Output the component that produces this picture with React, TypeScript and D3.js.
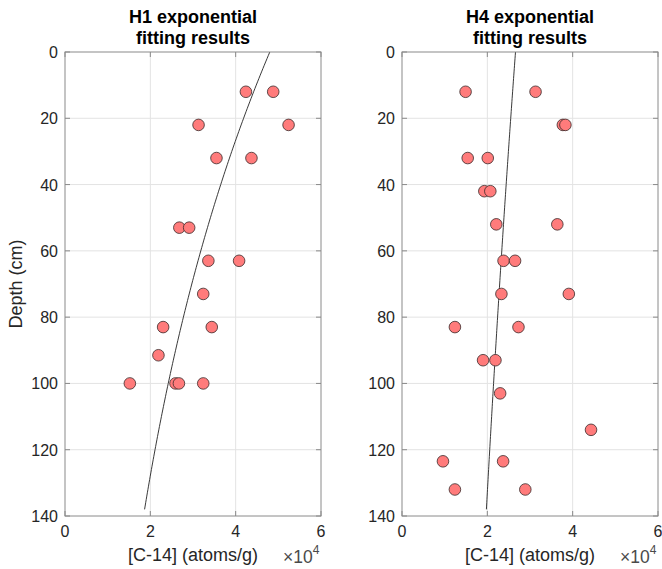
import * as d3 from "d3";
import React from "react";

// depth (cm) and [C-14] (x1e4 atoms/g)
const h1Depth = [12, 12, 22, 22, 32, 32, 53, 53, 63, 63, 73, 83, 83, 91.5, 100, 100, 100, 100];
const h1Conc = [4.24, 4.88, 3.13, 5.24, 3.55, 4.37, 2.68, 2.91, 3.36, 4.08, 3.24, 2.3, 3.44, 2.19, 1.52, 2.59, 2.67, 3.24];

const h4Depth = [12, 12, 22, 22, 32, 32, 42, 42, 52, 52, 63, 63, 73, 73, 83, 83, 93, 93, 103, 114, 123.5, 123.5, 132, 132];
const h4Conc = [1.49, 3.13, 3.77, 3.83, 1.54, 2.01, 1.93, 2.07, 2.21, 3.64, 2.38, 2.65, 2.33, 3.91, 1.24, 2.73, 1.9, 2.19, 2.3, 4.43, 0.96, 2.37, 1.24, 2.89];

// exponential fit C = a * exp(b * z)
const h1Fit = { a: 4.8, b: -1 / 146 };
const h4Fit = { a: 2.66, b: -1 / 466 };
const fitDepthMax = 138;

const xTicks = [0, 2, 4, 6];
const yTicks = [0, 20, 40, 60, 80, 100, 120, 140];

const font = "'Liberation Sans', Arial, Helvetica, sans-serif";
const boxColor = "#8a8a8a";
const textColor = "#262626";

const top = 52;
const bottom = 516;

function Panel({ left, right, title, depth, conc, fit, showYLabel }) {
  const x = d3.scaleLinear().domain([0, 6]).range([left, right]);
  const y = d3.scaleLinear().domain([0, 140]).range([top, bottom]);
  const cx = (left + right) / 2;

  const fitPts = d3.range(0, fitDepthMax + 0.5, 1).map((z) => [fit.a * Math.exp(fit.b * z), z]);
  const line = d3
    .line()
    .x((d) => x(d[0]))
    .y((d) => y(d[1]));

  return (
    <g fontFamily={font}>
      <rect x={left} y={top} width={right - left} height={bottom - top} fill="white" />
      {/* grid */}
      <g stroke="#e3e3e3" strokeWidth="1">
        {xTicks.slice(1, -1).map((t) => (
          <line key={"gx" + t} x1={x(t)} x2={x(t)} y1={top} y2={bottom} />
        ))}
        {yTicks.slice(1, -1).map((t) => (
          <line key={"gy" + t} x1={left} x2={right} y1={y(t)} y2={y(t)} />
        ))}
      </g>
      {/* ticks */}
      <g stroke={boxColor} strokeWidth="1">
        {xTicks.map((t) => (
          <g key={"tx" + t}>
            <line x1={x(t)} x2={x(t)} y1={bottom} y2={bottom - 5} />
            <line x1={x(t)} x2={x(t)} y1={top} y2={top + 5} />
          </g>
        ))}
        {yTicks.map((t) => (
          <g key={"ty" + t}>
            <line x1={left} x2={left + 5} y1={y(t)} y2={y(t)} />
            <line x1={right} x2={right - 5} y1={y(t)} y2={y(t)} />
          </g>
        ))}
      </g>
      {/* fit */}
      <path d={line(fitPts)} fill="none" stroke="#222" strokeWidth="0.9" />
      {/* points */}
      {depth.map((z, i) => (
        <circle
          key={i}
          cx={x(conc[i])}
          cy={y(z)}
          r="5.8"
          fill="#ff7b7b"
          stroke="#3a2a2a"
          strokeWidth="0.8"
        />
      ))}
      <rect
        x={left}
        y={top}
        width={right - left}
        height={bottom - top}
        fill="none"
        stroke={boxColor}
        strokeWidth="1"
      />
      {/* tick labels */}
      <g fill={textColor} fontSize="16">
        {xTicks.map((t) => (
          <text key={"lx" + t} x={x(t)} y={537} textAnchor="middle">
            {t}
          </text>
        ))}
        {yTicks.map((t) => (
          <text key={"ly" + t} x={left - 7} y={y(t) + 6} textAnchor="end">
            {t}
          </text>
        ))}
      </g>
      <text x={cx} y={561} textAnchor="middle" fontSize="18" fill={textColor}>
        [C-14] (atoms/g)
      </text>
      <text x={right - 38} y={563} fontSize="17.5" fill="#4a4a4a">
        ×10
        <tspan dy="-9" fontSize="12">
          4
        </tspan>
      </text>
      <text textAnchor="middle" fontWeight="bold" fontSize="18" fill="#000">
        <tspan x={cx} y={23}>
          {title}
        </tspan>
        <tspan x={cx} y={44}>
          fitting results
        </tspan>
      </text>
      {showYLabel && (
        <text
          transform={`translate(21.5, ${(top + bottom) / 2}) rotate(-90)`}
          textAnchor="middle"
          fontSize="18"
          fill={textColor}
        >
          Depth (cm)
        </text>
      )}
    </g>
  );
}

export default function App() {
  return (
    <div>
      <style>{`body{margin:0;}`}</style>
      <svg width={662} height={569} style={{ display: "block", background: "white" }}>
        <Panel
          left={65}
          right={321}
          title="H1 exponential"
          depth={h1Depth}
          conc={h1Conc}
          fit={h1Fit}
          showYLabel={true}
        />
        <Panel
          left={402}
          right={658}
          title="H4 exponential"
          depth={h4Depth}
          conc={h4Conc}
          fit={h4Fit}
          showYLabel={false}
        />
      </svg>
    </div>
  );
}
